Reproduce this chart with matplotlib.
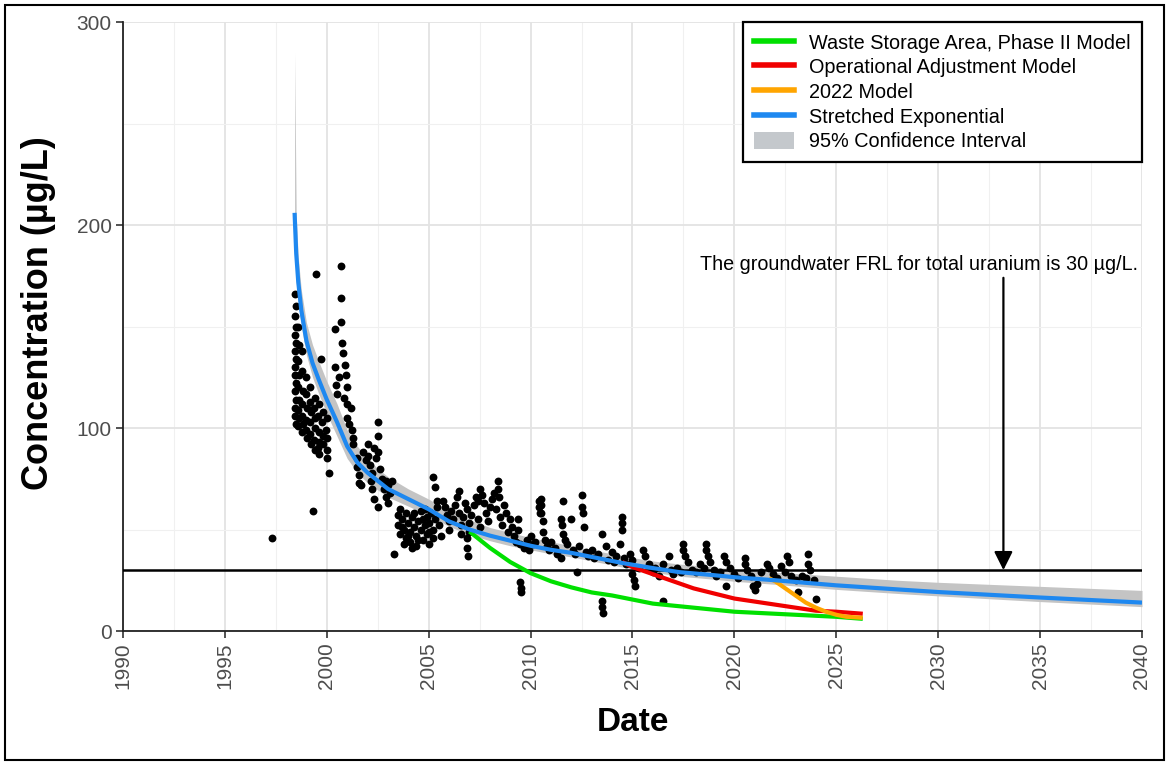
import matplotlib
matplotlib.use("Agg")
import matplotlib.pyplot as plt
from matplotlib.lines import Line2D
from matplotlib.patches import Patch, Rectangle
from matplotlib.ticker import MultipleLocator

plt.rcParams["font.family"] = ["Liberation Sans", "DejaVu Sans"]

early_samples = [
    (1997.3, 46),
    (1998.42, 166), (1998.48, 160), (1998.44, 155), (1998.5, 150), (1998.42, 146), (1998.47, 142),
    (1998.43, 138), (1998.5, 134), (1998.45, 130), (1998.42, 126), (1998.48, 122), (1998.44, 118),
    (1998.5, 114), (1998.46, 110), (1998.43, 106), (1998.49, 102),
    (1998.6, 150), (1998.62, 141), (1998.58, 133), (1998.65, 126), (1998.6, 120), (1998.63, 114),
    (1998.57, 109), (1998.66, 105), (1998.61, 101),
    (1998.8, 138), (1998.78, 128), (1998.83, 118), (1998.8, 112), (1998.76, 106), (1998.84, 102), (1998.79, 98),
    (1999.0, 125), (1998.97, 117), (1999.02, 110), (1999.0, 104), (1998.96, 99), (1999.03, 95),
    (1999.2, 120), (1999.18, 113), (1999.22, 108), (1999.2, 103), (1999.17, 97), (1999.23, 92),
    (1999.3, 59), (1999.45, 176), (1999.4, 115), (1999.38, 110), (1999.42, 105), (1999.4, 100),
    (1999.37, 94), (1999.44, 89),
    (1999.6, 112), (1999.7, 134), (1999.58, 106), (1999.62, 98), (1999.6, 93), (1999.57, 90), (1999.63, 87),
    (1999.8, 108), (1999.78, 103), (1999.83, 96), (1999.8, 92),
    (2000.0, 105), (1999.97, 99), (2000.03, 95), (2000.0, 89), (2000.02, 85), (2000.1, 78),
    (2000.7, 180), (2000.7, 164), (2000.7, 152), (2000.4, 149), (2000.75, 142), (2000.8, 137),
    (2000.4, 130), (2000.9, 131), (2000.95, 126), (2000.45, 121), (2000.5, 117), (2001.0, 120),
    (2001.0, 112), (2001.2, 110), (2001.0, 105), (2001.25, 99), (2001.3, 95), (2001.3, 92),
    (2001.5, 85), (2000.85, 115), (2001.1, 102), (2000.6, 125),
    (2001.5, 81), (2001.6, 77), (2001.6, 73), (2001.7, 72), (2002.0, 92), (2002.0, 86), (2002.1, 82),
    (2002.2, 78), (2002.3, 90), (2002.4, 85), (2002.5, 103), (2002.5, 96), (2002.5, 88), (2002.6, 80),
    (2002.7, 75), (2002.8, 70), (2002.9, 74), (2002.9, 66), (2003.0, 72), (2003.1, 68), (2003.2, 74),
    (2003.0, 63), (2002.2, 70), (2002.3, 65), (2002.5, 61), (2001.8, 88), (2001.9, 84), (2002.15, 74),
]

mid_samples = [
    (2003.3, 38), (2003.5, 57), (2003.5, 52), (2003.6, 48), (2003.7, 55), (2003.8, 50), (2003.9, 46),
    (2003.9, 58), (2004.0, 53), (2004.1, 49), (2004.1, 44), (2004.2, 56), (2004.3, 51), (2004.4, 47),
    (2004.4, 42), (2004.5, 54), (2004.6, 59), (2004.6, 50), (2004.7, 45), (2004.8, 52), (2004.9, 56),
    (2004.9, 48), (2005.0, 43), (2005.0, 53), (2005.1, 58), (2005.2, 50), (2005.2, 46), (2005.3, 55),
    (2005.4, 61), (2005.2, 76), (2005.3, 71), (2005.4, 64), (2005.5, 52), (2005.6, 47),
    (2003.6, 60), (2003.8, 43), (2004.0, 47), (2004.3, 58), (2004.5, 45), (2004.7, 55), (2005.0, 49),
    (2004.2, 41), (2003.7, 51), (2004.8, 60),
    (2005.7, 64), (2005.8, 61), (2005.9, 57), (2006.0, 54), (2006.0, 50), (2006.1, 59), (2006.2, 55),
    (2006.3, 62), (2006.4, 66), (2006.5, 69), (2006.5, 58), (2006.6, 52), (2006.6, 48), (2006.7, 56),
    (2006.8, 63), (2006.9, 60), (2006.9, 46), (2006.9, 41), (2006.95, 37), (2007.0, 53), (2007.0, 49),
    (2007.1, 57), (2007.2, 62), (2007.3, 66), (2007.4, 64), (2007.4, 55), (2007.5, 51),
    (2007.5, 70), (2007.6, 67), (2007.7, 63), (2007.8, 58), (2007.9, 54), (2008.0, 61), (2008.1, 65),
    (2008.2, 68), (2008.3, 60), (2008.4, 74), (2008.4, 70), (2008.45, 66), (2008.5, 56), (2008.6, 52),
    (2008.7, 62), (2008.8, 58), (2008.9, 49), (2009.0, 55), (2009.1, 51), (2009.2, 47), (2009.3, 44),
    (2009.4, 55), (2009.4, 50), (2009.5, 43), (2009.5, 24), (2009.55, 21), (2009.55, 19), (2009.7, 41),
    (2009.8, 45), (2009.9, 40), (2010.0, 47), (2010.1, 43), (2010.2, 44), (2010.4, 64), (2010.4, 61),
    (2010.45, 58),
]

late_samples = [
    (2010.5, 65), (2010.5, 62), (2010.5, 58), (2010.6, 54), (2010.6, 49), (2010.7, 45), (2010.8, 42),
    (2010.9, 40), (2011.0, 44), (2011.2, 41), (2011.3, 38), (2011.5, 36), (2011.5, 55), (2011.55, 52),
    (2011.6, 64), (2011.6, 48), (2011.7, 45), (2011.8, 43), (2012.0, 55), (2012.1, 40), (2012.2, 38),
    (2012.3, 29), (2012.4, 42), (2012.5, 67), (2012.5, 61), (2012.55, 58), (2012.6, 51), (2012.7, 39),
    (2012.8, 37), (2013.0, 40), (2013.1, 36), (2013.3, 38), (2013.5, 48), (2013.5, 15), (2013.5, 12),
    (2013.55, 9), (2013.7, 42), (2013.8, 35), (2014.0, 39), (2014.1, 34), (2014.2, 37), (2014.4, 43),
    (2014.5, 56), (2014.5, 53), (2014.5, 50), (2014.6, 36), (2014.7, 33), (2014.9, 38), (2015.0, 35),
    (2015.0, 28), (2015.05, 25), (2015.1, 22),
    (2015.3, 31), (2015.5, 40), (2015.6, 37), (2015.8, 33), (2016.0, 29), (2016.1, 31), (2016.3, 27),
    (2016.5, 15), (2016.5, 33), (2016.8, 37), (2016.9, 30), (2017.0, 28), (2017.2, 31), (2017.4, 29),
    (2017.5, 43), (2017.5, 40), (2017.6, 37), (2017.7, 34), (2017.9, 30), (2018.1, 29), (2018.3, 33),
    (2018.5, 31), (2018.6, 43), (2018.6, 40), (2018.7, 37), (2018.8, 34), (2019.0, 30), (2019.1, 27),
    (2019.3, 29), (2019.5, 37), (2019.6, 34), (2019.6, 22), (2019.8, 31), (2020.0, 28), (2020.2, 26),
    (2020.5, 36), (2020.5, 33), (2020.6, 30), (2020.8, 27), (2020.9, 22), (2021.0, 20), (2021.1, 23),
    (2021.3, 29), (2021.6, 33), (2021.7, 31), (2021.9, 28), (2022.1, 26), (2022.3, 32), (2022.5, 29),
    (2022.6, 37), (2022.7, 34), (2022.8, 27), (2023.0, 25), (2023.1, 19), (2023.3, 27), (2023.5, 26),
    (2023.6, 38), (2023.6, 33), (2023.7, 30), (2023.9, 25), (2024.0, 16),
]

# --- model curves ---
stretched_year = [1998.42, 1998.5, 1998.6, 1998.75, 1999.0, 1999.3, 1999.6, 2000.0, 2000.5, 2001.0,
                  2001.5, 2002.0, 2002.5, 2003.0, 2004.0, 2005.0, 2006.0, 2007.0, 2008.0, 2009.0,
                  2010.0, 2011.0, 2012.0, 2013.0, 2014.5, 2016.0, 2017.3, 2019.0, 2020.0, 2022.0,
                  2025.0, 2028.0, 2030.0, 2035.0, 2040.0]
stretched_conc = [206, 186, 172, 158, 143, 132, 124, 114, 103, 91,
                  83, 78, 74, 70, 65, 60, 54, 50, 47, 44.5,
                  42, 40, 38.5, 36.5, 33.5, 31, 29, 27.5, 26.5, 25,
                  22.5, 20.5, 19.2, 16.5, 14]
ci_upper = [285, 205, 184, 168, 152, 141, 133, 123, 112, 99,
            91, 85, 80, 76, 70, 65, 59, 55, 51, 48.5,
            46, 44, 42, 40, 37, 34.5, 33, 31.5, 30.5, 29,
            27, 25, 24, 22, 20]
ci_lower = [190, 172, 162, 150, 136, 125, 117, 107, 96, 85,
            78, 73, 69.5, 66, 61.5, 57, 51.5, 47.5, 44.5, 42,
            40, 38, 36.5, 34.5, 31.5, 29, 27, 25.5, 24.5, 23,
            20.5, 18.5, 17.3, 14.5, 12]

phase2_year = [2007.0, 2007.5, 2008.0, 2009.0, 2010.0, 2011.0, 2012.0, 2013.0, 2014.0, 2015.0,
               2016.0, 2017.0, 2018.0, 2019.0, 2020.0, 2021.0, 2022.0, 2023.0, 2024.0, 2025.0, 2026.3]
phase2_conc = [49, 45, 41, 34, 28.5, 24.5, 21.5, 19, 17.5, 15.5,
               13.5, 12.5, 11.5, 10.5, 9.5, 9, 8.5, 8, 7.5, 7, 6]

opadj_year = [2014.5, 2015.0, 2016.0, 2017.0, 2018.0, 2019.0, 2020.0, 2021.0, 2022.0, 2023.0,
              2024.0, 2025.0, 2026.3]
opadj_conc = [34, 31.5, 28, 24.5, 21, 18.5, 16, 14.5, 13, 11.5, 10, 9.5, 8.5]

model2022_year = [2021.7, 2022.0, 2022.5, 2023.0, 2023.5, 2024.0, 2024.5, 2025.0, 2025.5, 2026.3]
model2022_conc = [26, 24.5, 21, 17.5, 14, 11.5, 9.5, 8, 7, 6.5]

frl_value = 30
frl_note = "The groundwater FRL for total uranium is 30 µg/L."

x_ticks = list(range(1990, 2041, 5))
y_ticks = [0, 100, 200, 300]

fig = plt.figure(figsize=(11.69, 7.62), dpi=100)
ax = fig.add_axes([0.1052, 0.1719, 0.8717, 0.7992])

ax.fill_between(stretched_year, ci_lower, ci_upper, color="#C4C4C4", lw=0, zorder=1)

samples = early_samples + mid_samples + late_samples
ax.scatter([s[0] for s in samples], [s[1] for s in samples], s=32, color="black",
           linewidths=0, zorder=2)

ax.axhline(frl_value, color="black", lw=1.8, zorder=3)

ax.plot(phase2_year, phase2_conc, color="#00E000", lw=3, solid_capstyle="butt", zorder=4)
ax.plot(opadj_year, opadj_conc, color="#F00000", lw=3, solid_capstyle="butt", zorder=4)
ax.plot(model2022_year, model2022_conc, color="#FFA500", lw=3, solid_capstyle="butt", zorder=4)
ax.plot(stretched_year, stretched_conc, color="#1E88F0", lw=3, solid_capstyle="butt", zorder=5)

ax.text(2029.05, 180.5, frl_note, ha="center", va="center", fontsize=14.2, color="black")
ax.annotate("", xy=(2033.2, frl_value), xytext=(2033.2, 174),
            arrowprops=dict(arrowstyle="-|>", color="black", lw=1.6, mutation_scale=28,
                            shrinkA=0, shrinkB=0), zorder=6)

ax.set_xlim(1990, 2040)
ax.set_ylim(0, 300)
ax.set_xticks(x_ticks)
ax.set_xticklabels([str(t) for t in x_ticks], rotation=90)
ax.set_yticks(y_ticks)
ax.xaxis.set_minor_locator(MultipleLocator(2.5))
ax.yaxis.set_minor_locator(MultipleLocator(50))
ax.grid(which="major", color="#E3E3E3", lw=1.3, zorder=0)
ax.grid(which="minor", color="#F0F0F0", lw=0.8, zorder=0)
ax.set_axisbelow(True)
ax.tick_params(which="major", length=5, width=1.2, color="#333333", labelcolor="#4D4D4D",
               labelsize=15, pad=3)
ax.tick_params(which="minor", length=0)
for side in ["top", "right"]:
    ax.spines[side].set_visible(False)
for side in ["left", "bottom"]:
    ax.spines[side].set_linewidth(1.3)
    ax.spines[side].set_color("#222222")

ax.set_xlabel("Date", fontsize=24, fontweight="bold", labelpad=13)
ax.set_ylabel("Concentration (µg/L)", fontsize=26, fontweight="bold")
ax.yaxis.set_label_coords(-0.066, 0.522)

handles = [
    Line2D([], [], color="#00E000", lw=4),
    Line2D([], [], color="#F00000", lw=4),
    Line2D([], [], color="#FFA500", lw=4),
    Line2D([], [], color="#1E88F0", lw=4),
    Patch(facecolor="#C4C8CC", edgecolor="none"),
]
labels = ["Waste Storage Area, Phase II Model", "Operational Adjustment Model", "2022 Model",
          "Stretched Exponential", "95% Confidence Interval"]
leg = ax.legend(handles, labels, loc="upper right", bbox_to_anchor=(1.0, 1.0), borderaxespad=0,
                fontsize=14.3, frameon=True, fancybox=False, edgecolor="black", framealpha=1,
                handlelength=2.0, handleheight=1.0, handletextpad=0.8, labelspacing=0.25,
                borderpad=0.55)
leg.get_frame().set_linewidth(1.6)

fig.add_artist(Rectangle((0.004, 0.003), 0.992, 0.99, transform=fig.transFigure, fill=False,
                         edgecolor="black", lw=1.5))

fig.savefig("out.png", dpi=100)
